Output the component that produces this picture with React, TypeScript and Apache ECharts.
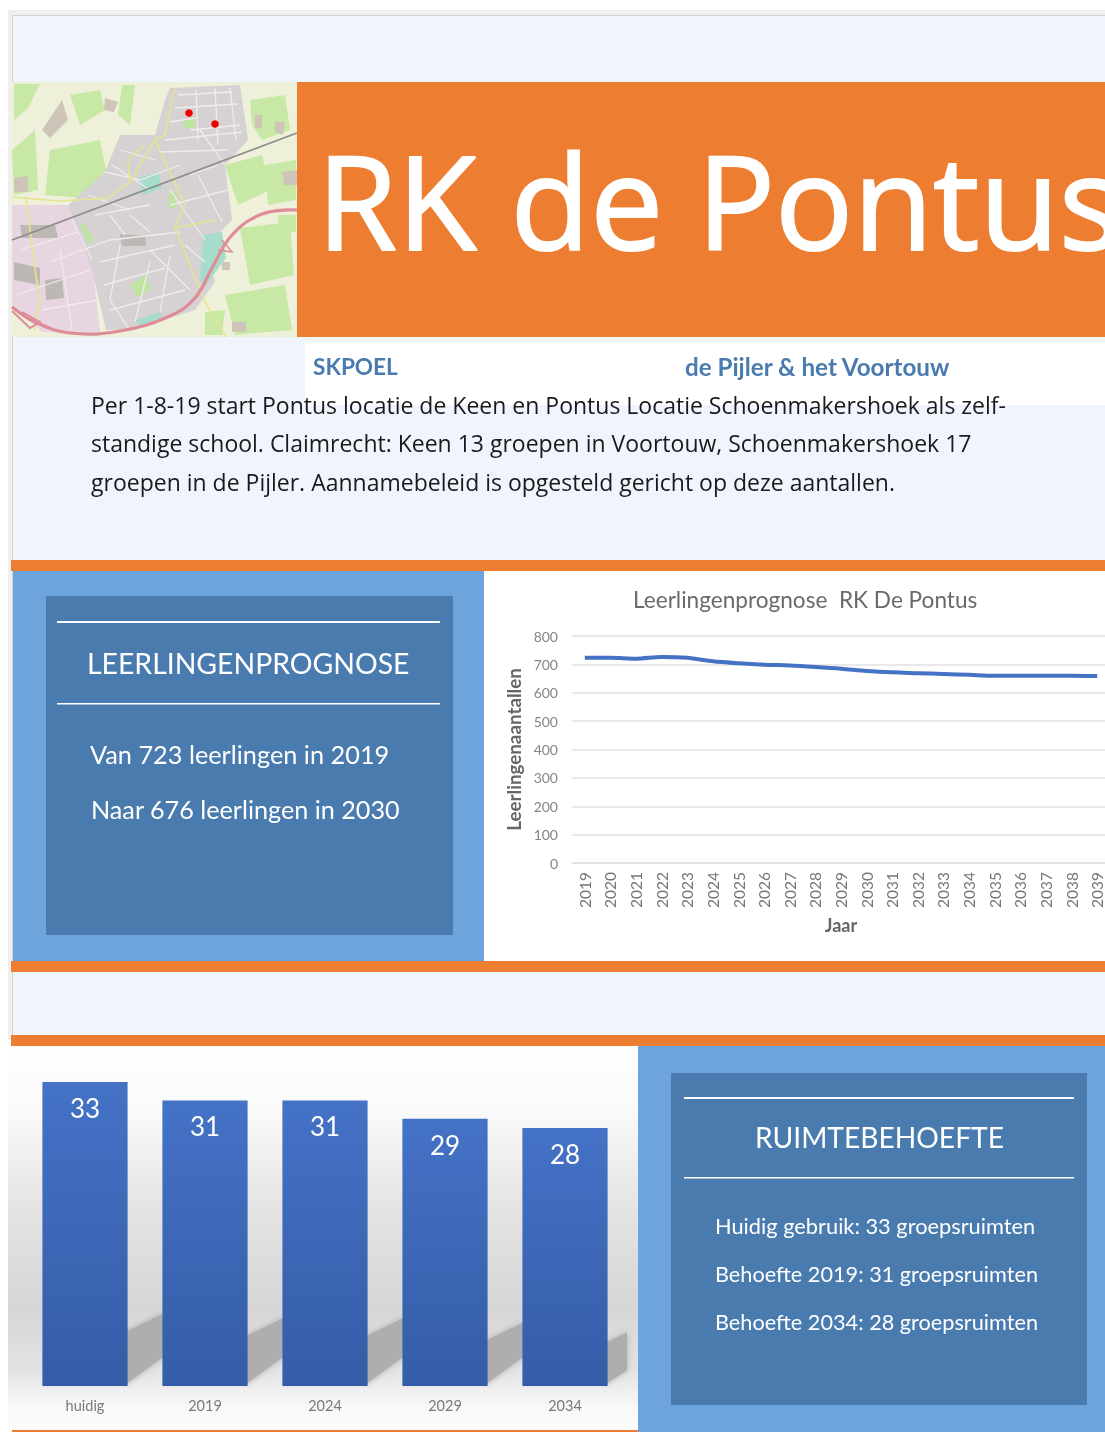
import React, { useEffect, useRef } from "react";
import * as echarts from "echarts";

const years = ["2019","2020","2021","2022","2023","2024","2025","2026","2027","2028","2029","2030","2031","2032","2033","2034","2035","2036","2037","2038","2039"];
const pupils = [723,723,720,726,723,711,704,699,696,691,685,677,672,669,666,663,660,660,660,660,659];
const roomCats = ["huidig","2019","2024","2029","2034"];
const roomVals = [33,31,31,29,28];

const ORANGE = "#ED7D31", PANEL = "#F0F4FC", LIGHT = "#6CA4DB", DARK = "#4A7BAE";
const SANS = "'Open Sans'", LATO = "Lato";

const rect = (x: number, y: number, width: number, height: number, fill: any) => ({ type: "rect", shape: { x, y, width, height }, style: { fill }, silent: true });
const txt = (text: string, x: number, y: number, fontSize: number, fill: string, fontFamily = SANS, fontWeight: any = "normal", extra: any = {}) => ({
  type: "text", x, y, silent: true, style: { text, fontSize, fill, fontFamily, fontWeight, textVerticalAlign: "middle", textBaseline: "middle", ...extra },
});
const poly = (pts: number[][], fill: string) => ({ type: "polygon", shape: { points: pts }, style: { fill }, silent: true });
const road = (pts: number[][], stroke: string, lineWidth: number, smooth = 0) => ({ type: "polyline", shape: { points: pts, smooth }, style: { stroke, lineWidth, fill: "none" }, silent: true });

const mapGreens = [
  [[50,150],[100,140],[106,170],[85,198],[45,195]],
  [[250,100],[285,95],[290,130],[262,140],[252,125]],
  [[240,228],[290,222],[294,275],[250,285]],
  [[225,295],[285,285],[292,330],[235,335]],
  [[122,85],[135,85],[130,125],[118,115]],
  [[12,150],[35,130],[38,190],[14,195]],
  [[225,165],[262,155],[270,190],[238,205]],
  [[265,165],[296,160],[296,200],[268,205]],
  [[14,84],[40,84],[28,108],[14,120]],
  [[70,95],[100,90],[105,110],[80,125]],
  [[278,215],[296,215],[296,232],[280,232]],
  [[14,205],[24,205],[22,225],[14,225]],
  [[205,312],[225,310],[222,335],[205,335]],
];
const mapBrown = [
  [[42,130],[62,100],[68,120],[50,138]],
  [[105,98],[118,102],[114,112],[104,110]],
  [[282,172],[297,170],[297,185],[284,185]],
  [[275,122],[285,122],[283,135],[275,132]],
  [[14,178],[28,176],[28,192],[14,192]],
  [[255,115],[262,115],[262,128],[255,128]],
  [[232,322],[246,322],[246,332],[232,332]],
  [[222,262],[230,262],[230,270],[222,270]],
];
const mapTown = [[170,88],[240,85],[248,140],[225,165],[232,220],[205,248],[215,282],[195,310],[130,330],[106,330],[92,270],[68,205],[105,172],[120,135],[155,135],[165,100]];
const mapIndustry = [[12,205],[68,205],[92,262],[100,332],[42,332],[12,306]];
const mapTeal = [[[138,178],[158,172],[162,188],[143,195]],[[203,235],[222,232],[226,258],[206,285],[200,280]],[[135,320],[160,312],[162,318],[140,326]]];
const mapGrey = [[[120,234],[145,236],[146,246],[122,246]],[[14,262],[40,268],[40,285],[14,280]],[[20,225],[55,225],[58,238],[22,238]],[[45,280],[62,278],[64,298],[46,300]]];
const mapParks = [[[84,222],[94,240],[90,245],[80,226]],[[130,285],[145,275],[152,288],[138,298]],[[170,190],[178,195],[176,210],[168,206]],[[182,120],[195,118],[195,128],[184,128]]];
const mapYellow = [
  [[12,197],[60,201],[108,198],[130,182],[155,140],[165,135],[172,100],[175,88]],
  [[155,140],[185,205],[175,228],[215,220]],
  [[26,198],[35,270],[40,300],[34,330]],
  [[175,228],[205,302],[226,337]],
  [[130,182],[128,160],[145,145]],
];
const mapWhite = [
  [[50,262],[110,240],[180,232]],
  [[105,172],[140,180],[180,165]],
  [[120,245],[110,300],[130,330]],
  [[190,130],[240,125]],
  [[200,130],[225,165]],
  [[150,250],[190,290]],
  [[178,95],[232,92]],
  [[175,108],[238,104]],
  [[170,122],[196,118]],
  [[165,140],[242,132]],
  [[160,152],[228,150]],
  [[196,90],[198,140]],
  [[215,88],[218,145]],
  [[230,88],[236,140]],
  [[120,150],[155,160]],
  [[112,165],[150,190]],
  [[88,195],[130,210]],
  [[95,215],[150,205]],
  [[190,175],[218,165]],
  [[170,205],[228,190]],
  [[170,190],[205,240]],
  [[198,175],[222,222]],
  [[110,215],[125,235]],
  [[130,215],[150,232]],
  [[100,262],[175,245]],
  [[104,285],[165,268]],
  [[110,310],[185,290]],
  [[150,262],[135,322]],
  [[170,255],[160,312]],
  [[185,245],[205,262]],
  [[70,215],[92,260]],
  [[20,250],[78,232]],
  [[16,295],[90,270]],
  [[42,310],[98,300]],
  [[60,250],[72,330]],
];
const mapRail = [[12,240],[297,133]];
const mapRoad1 = [[12,307],[35,322],[70,333],[120,331],[170,316],[195,298],[212,268],[232,235],[262,214],[297,210]];
const mapRoad2 = [[12,311],[30,328],[40,322],[22,312]];
const mapRoad3 = [[218,250],[232,252],[222,240]];

const shadow = (params: any, api: any) => {
  const value = api.value(1);
  const c = api.coord([api.value(0), 0]);
  const band = api.size([1, 0])[0];
  const half = band * 0.354;
  const h = api.size([0, value])[1] * 0.24;
  const x1 = c[0] + half, y0 = c[1];
  const limit = params.coordSys.x + params.coordSys.width + 2;
  const xr = Math.min(x1 + 37, limit);
  const lower = ((xr - x1) * 30) / 37;
  const upperAt = y0 - h + 18 - ((xr - x1) * 18) / 37;
  return {
    type: "polygon",
    shape: { points: [[x1 - 5, y0 - 3], [x1, y0 - 3], [xr, y0 - lower], [xr, upperAt], [x1, y0 - h + 18], [x1 - 5, y0 - h + 18]] },
    style: { fill: "#AEAEAE", shadowBlur: 6, shadowColor: "#AEAEAE" },
  };
};

export default function App() {
  const ref = useRef<HTMLDivElement>(null);
  useEffect(() => {
    const chart = echarts.init(ref.current!, undefined, { renderer: "svg" });
    chart.setOption({
      animation: false,
      backgroundColor: "#fff",
      graphic: { elements: [
        rect(8, 10, 1112, 5, "#EFEFEF"),
        rect(8, 15, 5, 1025, "#EFEFEF"),
        rect(12, 15, 1108, 1, "#D2D2D2"),
        rect(12, 15, 1, 1025, "#D2D2D2"),
        rect(13, 16, 1107, 1020, PANEL),
        rect(297, 82, 823, 255, ORANGE),
        txt("RK de Pontus", 317, 199, 130, "#fff", SANS, "normal", { stroke: "#fff", lineWidth: 2 }),
        rect(305, 342, 815, 63, "#fff"),
        txt("SKPOEL", 313, 366, 22.6, DARK, LATO, "bold"),
        txt("de Pijler & het Voortouw", 685, 366, 24.2, DARK, LATO, "bold"),
        txt("Per 1-8-19 start Pontus locatie de Keen en Pontus Locatie Schoenmakershoek als zelf-", 91, 405, 23, "#1a1a1a"),
        txt("standige school. Claimrecht: Keen 13 groepen in Voortouw, Schoenmakershoek 17", 91, 443, 23, "#1a1a1a"),
        txt("groepen in de Pijler. Aannamebeleid is opgesteld gericht op deze aantallen.", 91, 482, 23, "#1a1a1a"),
        // map
        rect(11, 82, 286, 255, "#EEF0DA"),
        ...mapGreens.map((p) => poly(p, "#C8E8A6")),
        ...mapBrown.map((p) => poly(p, "#CFC4B8")),
        poly(mapIndustry, "#E8D5E2"),
        poly(mapTown, "#D6D1D2"),
        ...mapTeal.map((p) => poly(p, "#A6DCCB")),
        ...mapGrey.map((p) => poly(p, "#BDB8B4")),
        ...mapParks.map((p) => poly(p, "#BFE3A2")),
        ...mapWhite.map((p) => road(p, "#EFECEC", 1.3)),
        ...mapYellow.map((p) => road(p, "#E7E48F", 1.6)),
        road(mapRail, "#8C8C8C", 1.8),
        road(mapRoad1, "#DE8C96", 3.2, 0.4),
        road(mapRoad2, "#DE8C96", 2),
        road(mapRoad3, "#DE8C96", 1.5),
        { type: "circle", shape: { cx: 189, cy: 113, r: 3.8 }, style: { fill: "#F00000" }, silent: true },
        { type: "circle", shape: { cx: 215, cy: 124, r: 3.8 }, style: { fill: "#F00000" }, silent: true },
        // bands
        rect(11, 560, 1109, 11, ORANGE),
        rect(13, 571, 471, 390, LIGHT),
        rect(484, 571, 636, 390, "#fff"),
        rect(46, 596, 407, 339, DARK),
        rect(57, 621, 383, 2, "#fff"),
        rect(57, 703, 383, 1.5, "#fff"),
        txt("LEERLINGENPROGNOSE", 87, 663, 28.4, "#fff", LATO),
        txt("Van 723 leerlingen in 2019", 90, 754, 25.3, "#fff", LATO),
        txt("Naar 676 leerlingen in 2030", 91, 809, 25.2, "#fff", LATO),
        rect(11, 961, 1109, 11, ORANGE),
        rect(11, 1035, 1109, 11, ORANGE),
        rect(8, 1046, 630, 384, { type: "linear", x: 0, y: 0, x2: 0, y2: 1, colorStops: [
          { offset: 0, color: "#FFFFFF" }, { offset: 0.16, color: "#FAFAFA" }, { offset: 0.42, color: "#E4E4E4" },
          { offset: 0.68, color: "#D6D6D6" }, { offset: 0.84, color: "#E2E2E2" }, { offset: 0.94, color: "#F8F8F8" }, { offset: 1, color: "#FCFCFC" } ] }),
        rect(12, 1430, 626, 2, ORANGE),
        rect(638, 1046, 482, 386, LIGHT),
        rect(671, 1073, 416, 332, DARK),
        rect(684, 1097, 390, 2, "#fff"),
        rect(684, 1177, 390, 1.5, "#fff"),
        txt("RUIMTEBEHOEFTE", 755, 1137, 28.2, "#fff", LATO),
        txt("Huidig gebruik: 33 groepsruimten", 715, 1225, 21.8, "#fff", LATO),
        txt("Behoefte 2019: 31 groepsruimten", 715, 1274, 21.7, "#fff", LATO),
        txt("Behoefte 2034: 28 groepsruimten", 715, 1322, 21.7, "#fff", LATO),
      ] },
      title: [{ text: "Leerlingenprognose  RK De Pontus", left: 628, top: 583, textStyle: { fontFamily: LATO, fontSize: 22.6, fontWeight: "normal", color: "#6A6A6A" } }],
      grid: [
        { left: 572, top: 636, width: 538, height: 227 },
        { left: 25, top: 1082, width: 600, height: 304 },
      ],
      xAxis: [
        { gridIndex: 0, type: "category", data: years, name: "Jaar", nameLocation: "middle", nameGap: 53,
          nameTextStyle: { fontFamily: LATO, fontSize: 18, fontWeight: "bold", color: "#666" },
          axisLine: { lineStyle: { color: "#E0E0E0", width: 1.5 } }, axisTick: { show: false },
          axisLabel: { rotate: 90, interval: 0, margin: 9, fontFamily: LATO, fontSize: 15.5, color: "#777" } },
        { gridIndex: 1, type: "category", data: roomCats, axisLine: { show: false }, axisTick: { show: false },
          axisLabel: { margin: 12, fontFamily: LATO, fontSize: 14.5, color: "#7A7A7A" } },
      ],
      yAxis: [
        { gridIndex: 0, type: "value", min: 0, max: 800, interval: 100, name: "Leerlingenaantallen", nameLocation: "middle", nameGap: 49,
          nameTextStyle: { fontFamily: LATO, fontSize: 18.8, fontWeight: "bold", color: "#666" },
          axisLine: { show: false }, axisTick: { show: false }, splitLine: { lineStyle: { color: "#E2E2E2", width: 1.5 } },
          axisLabel: { margin: 14, fontFamily: LATO, fontSize: 14, color: "#858585" } },
        { gridIndex: 1, type: "value", min: 0, max: 33, show: false, splitLine: { show: false } },
      ],
      series: [
        { type: "line", xAxisIndex: 0, yAxisIndex: 0, data: pupils, smooth: 0.3, showSymbol: false, symbol: "none", lineStyle: { color: "#4472C4", width: 4 }, clip: false },
        { type: "custom", xAxisIndex: 1, yAxisIndex: 1, z: 1, clip: false, silent: true, renderItem: shadow, encode: { x: 0, y: 1 }, data: roomVals.map((v, i) => [i, v]) },
        { type: "bar", xAxisIndex: 1, yAxisIndex: 1, z: 2, barWidth: "71%", data: roomVals,
          itemStyle: { color: { type: "linear", x: 0, y: 0, x2: 0, y2: 1, colorStops: [{ offset: 0, color: "#4472C6" }, { offset: 1, color: "#345DA7" }] } },
          label: { show: true, position: "insideTop", distance: 13, fontFamily: LATO, fontSize: 26, color: "#fff" } },
      ],
    });
    return () => chart.dispose();
  }, []);
  return (
    <div style={{ position: "absolute", left: 0, top: 0, width: 1105, height: 1432, overflow: "hidden" }}>
      <div ref={ref} style={{ width: 1125, height: 1432, filter: "blur(0.5px)" }} />
    </div>
  );
}
